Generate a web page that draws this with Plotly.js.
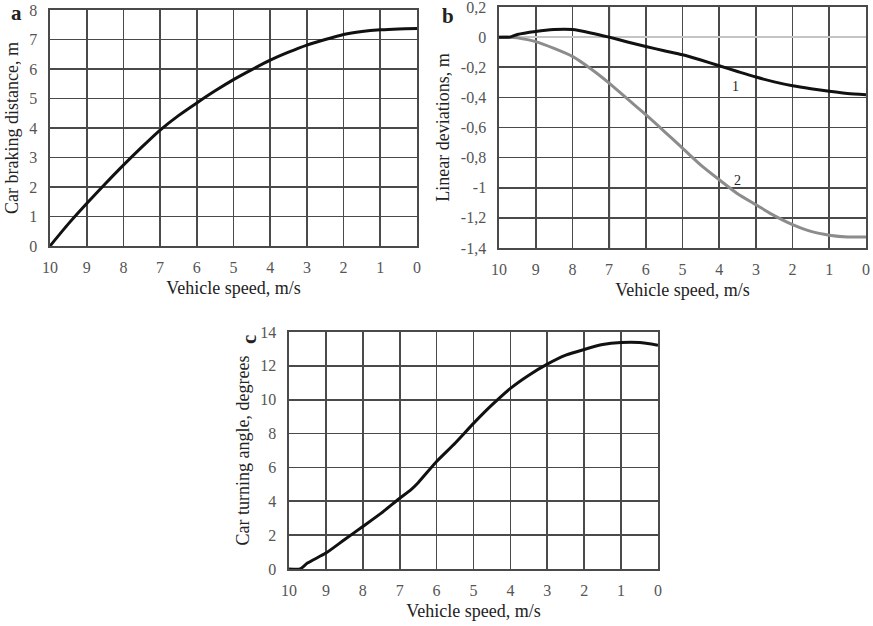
<!DOCTYPE html>
<html>
<head>
<meta charset="utf-8">
<script src="https://cdn.plot.ly/plotly-3.0.1.min.js"></script>
<style>html,body{margin:0;padding:0;background:#fff;}#chart{width:873px;height:626px;}</style>
</head>
<body>
<div id="chart"></div>
<script>
// ---- data ----
const speed = [10, 9.5, 9, 8.5, 8, 7.5, 7, 6.5, 6, 5.5, 5, 4.5, 4, 3.5, 3, 2.5, 2, 1.5, 1, 0.5, 0];
const brakingDistance = [0, 0.75, 1.44, 2.1, 2.74, 3.35, 3.93, 4.42, 4.85, 5.26, 5.64, 5.98, 6.30, 6.57, 6.81, 7.0, 7.17, 7.27, 7.33, 7.36, 7.37];

const speedB = [10, 9.7, 9.5, 9, 8.5, 8, 7.5, 7, 6.5, 6, 5.5, 5, 4.5, 4, 3.5, 3, 2.5, 2, 1.5, 1, 0.5, 0];
const deviation1 = [0, 0, 0.018, 0.038, 0.05, 0.05, 0.028, 0, -0.032, -0.062, -0.09, -0.117, -0.152, -0.19, -0.228, -0.265, -0.297, -0.323, -0.343, -0.36, -0.375, -0.383];
const deviation2 = [0, 0, -0.005, -0.03, -0.075, -0.128, -0.21, -0.305, -0.41, -0.515, -0.625, -0.737, -0.85, -0.947, -1.04, -1.113, -1.185, -1.245, -1.29, -1.315, -1.327, -1.327];

const speedC = [10, 9.7, 9.5, 9, 8.5, 8, 7.5, 7, 6.7, 6.5, 6, 5.5, 5, 4.5, 4, 3.5, 3, 2.5, 2, 1.5, 1, 0.5, 0];
const turningAngle = [0, 0, 0.35, 0.94, 1.73, 2.51, 3.3, 4.18, 4.68, 5.1, 6.35, 7.43, 8.6, 9.69, 10.67, 11.45, 12.1, 12.63, 12.97, 13.26, 13.38, 13.38, 13.22];

const speedTicks = [10, 9, 8, 7, 6, 5, 4, 3, 2, 1, 0];
const speedTickText = ['10', '9', '8', '7', '6', '5', '4', '3', '2', '1', '0'];
const aTicks = [0, 1, 2, 3, 4, 5, 6, 7, 8];
const bTicks = [0.2, 0, -0.2, -0.4, -0.6, -0.8, -1, -1.2, -1.4];
const bTickText = ['0,2', '0', '-0,2', '-0,4', '-0,6', '-0,8', '-1', '-1,2', '-1,4'];
const cTicks = [0, 2, 4, 6, 8, 10, 12, 14];

const curveLabels = ['1', '2'];
const curveLabelX = [3.55, 3.5];
const curveLabelY = [-0.33, -0.95];

// ---- styling ----
const serif = 'Liberation Serif, Times New Roman, serif';
const tickFont = {family: serif, size: 16, color: '#555'};
const titleFont = {family: serif, size: 18, color: '#222'};
const gridC = '#4a4a4a';
const gw = 1.6;

function xAx(domain, anchor) {
  return {
    domain: domain, anchor: anchor, range: [10.0001, -0.0001], tickvals: speedTicks, ticktext: speedTickText,
    showgrid: true, gridcolor: gridC, gridwidth: gw, showline: true, mirror: true, linecolor: gridC, linewidth: gw,
    zeroline: false, ticks: '', tickfont: tickFont, ticklabelstandoff: 6, ticklabeloverflow: 'allow',
    title: {text: 'Vehicle speed, m/s', font: titleFont, standoff: 6}, fixedrange: true
  };
}
function yAx(domain, anchor, range, vals, text) {
  const o = {
    domain: domain, anchor: anchor, range: range, tickvals: vals,
    showgrid: true, gridcolor: gridC, gridwidth: gw, showline: true, mirror: true, linecolor: gridC, linewidth: gw,
    zeroline: false, ticks: '', tickfont: tickFont, ticklabelstandoff: 8, ticklabeloverflow: 'allow', fixedrange: true
  };
  if (text) o.ticktext = text;
  return o;
}

const W = 873, H = 626;
const px = v => v / W;
const py = v => 1 - v / H;

const layout = {
  width: W, height: H, margin: {l: 0, r: 0, t: 0, b: 0}, showlegend: false,
  paper_bgcolor: '#fff', plot_bgcolor: '#fff',
  xaxis: xAx([px(50), px(417)], 'y'),
  yaxis: Object.assign(yAx([py(246), py(10)], 'x', [-0.0001, 8.0001], aTicks), {title: {text: 'Car braking distance, m', font: titleFont, standoff: 6}}),
  xaxis2: xAx([px(499), px(866)], 'y2'),
  yaxis2: Object.assign(yAx([py(248), py(7)], 'x2', [-1.4001, 0.2001], bTicks, bTickText), {title: {text: 'Linear deviations, m', font: titleFont, standoff: 6}, zeroline: true, zerolinecolor: '#c4c4c4', zerolinewidth: 1.5}),
  xaxis3: xAx([px(289), px(658)], 'y3'),
  yaxis3: Object.assign(yAx([py(569), py(332)], 'x3', [-0.0001, 14.0001], cTicks), {title: {text: 'Car turning angle, degrees', font: titleFont, standoff: 6}}),
  shapes: [
    {type: 'line', xref: 'x2', yref: 'paper', x0: 7, x1: 7, y0: py(248), y1: py(7), line: {color: '#111', width: 2}, layer: 'below'}
  ],
  annotations: [
    {text: '<b>a</b>', x: px(16), y: py(13), xref: 'paper', yref: 'paper', xanchor: 'center', yanchor: 'middle', showarrow: false, font: {family: serif, size: 21, color: '#222'}},
    {text: '<b>b</b>', x: px(448), y: py(16), xref: 'paper', yref: 'paper', xanchor: 'center', yanchor: 'middle', showarrow: false, font: {family: serif, size: 21, color: '#222'}},
    {text: '<b>c</b>', x: px(249), y: py(340), xref: 'paper', yref: 'paper', xanchor: 'center', yanchor: 'middle', showarrow: false, textangle: -90, font: {family: serif, size: 21, color: '#222'}},
    {text: curveLabels[0], x: curveLabelX[0], y: curveLabelY[0], xref: 'x2', yref: 'y2', showarrow: false, font: {family: serif, size: 14, color: '#222'}},
    {text: curveLabels[1], x: curveLabelX[1], y: curveLabelY[1], xref: 'x2', yref: 'y2', showarrow: false, font: {family: serif, size: 14, color: '#222'}}
  ]
};

const lineStyle = (c) => ({color: c, width: 3, shape: 'spline', smoothing: 0.6});
const data = [
  {x: speed, y: brakingDistance, xaxis: 'x', yaxis: 'y', mode: 'lines', line: lineStyle('#111'), hoverinfo: 'skip'},
  {x: speedB, y: deviation2, xaxis: 'x2', yaxis: 'y2', mode: 'lines', line: lineStyle('#8c8c8c'), hoverinfo: 'skip'},
  {x: speedB, y: deviation1, xaxis: 'x2', yaxis: 'y2', mode: 'lines', line: lineStyle('#111'), hoverinfo: 'skip'},
  {x: speedC, y: turningAngle, xaxis: 'x3', yaxis: 'y3', mode: 'lines', line: lineStyle('#111'), hoverinfo: 'skip'}
];

Plotly.newPlot('chart', data, layout, {displayModeBar: false, staticPlot: true});
</script>
</body>
</html>
